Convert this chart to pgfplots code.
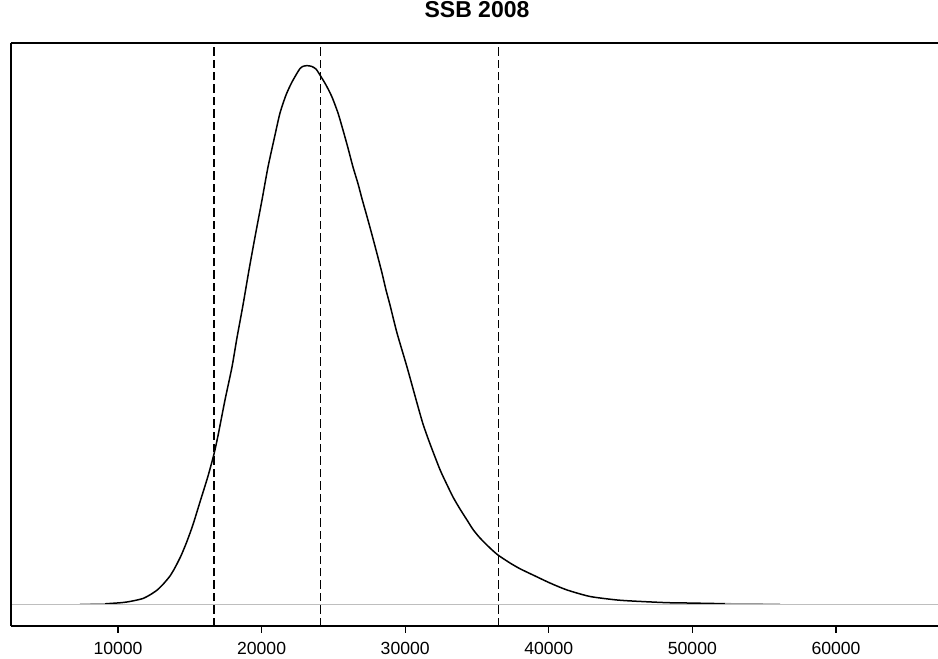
\documentclass[border=0pt]{standalone}
\usepackage{pgfplots}
\pgfplotsset{compat=1.18}
\usepackage{fontspec}
\setmainfont{Liberation Sans}

\definecolor{zeroline}{HTML}{BEBEBE}
\definecolor{tailgray}{HTML}{9A9A9A}

\begin{document}
\begin{tikzpicture}
% fixed page: 938x659 px at 0.5pt per px; the axis runs past the right edge
\useasboundingbox (-5.5pt,-16.5pt) rectangle (463.5pt,313pt);
\begin{axis}[
    at={(0,0)}, anchor=south west,
    scale only axis,
    width=466pt, height=291.5pt,
    xmin=2549, xmax=67453,
    ymin=-0.0403, ymax=1.0422,
    separate axis lines,
    axis x line=box,
    axis y line=none,
    x axis line style={black, line width=0.6pt, -},
    xtick={10000,20000,30000,40000,50000,60000},
    ytick=\empty,
    xtick pos=bottom,
    tick align=outside,
    major tick length=3.3pt,
    every tick/.style={black, line width=0.6pt},
    scaled x ticks=false,
    xticklabel style={font=\fontsize{8.8}{10.5}\selectfont, yshift=-1.2pt},
    /pgf/number format/1000 sep={},
    /pgf/number format/fixed,
    /pgf/number format/precision=0,
    /pgf/number format/assume math mode=true,
    title={SSB 2008},
    title style={font=\bfseries\fontsize{11.5}{13}\selectfont, at={(0.5,1)}, anchor=center, yshift=10.65pt},
]
% density curve
\addplot[black, line width=0.75pt, smooth, tension=0.4] coordinates {
(9095,0.0009) (10139,0.0028) (10627,0.0043) (11184,0.0071) (11741,0.0108)
(12228,0.0175) (12716,0.0262) (13134,0.0370) (13621,0.0525) (13969,0.0680)
(14387,0.0900) (14805,0.1170) (15223,0.1480) (15710,0.1900) (16268,0.2380)
(16685,0.2791) (16964,0.3130) (17451,0.3793) (17939,0.4406) (18287,0.4950)
(18705,0.5557) (19123,0.6207) (19541,0.6820) (20028,0.7507) (20446,0.8119)
(20933,0.8713) (21282,0.9122) (21700,0.9456) (22117,0.9698) (22674,0.9948)
(22953,0.9994) (23232,1.0000) (23510,0.9985) (23789,0.9938) (24067,0.9827)
(24485,0.9642) (24903,0.9419) (25321,0.9122) (25669,0.8806) (26017,0.8472)
(26365,0.8119) (26714,0.7810) (26992,0.7530) (27340,0.7200) (27689,0.6860)
(28037,0.6510) (28385,0.6151) (28664,0.5836) (28942,0.5557) (29430,0.5037)
(30126,0.4406) (30822,0.3737) (31240,0.3348) (31728,0.2980) (32424,0.2500)
(32912,0.2220) (33329,0.1992) (33817,0.1769) (34304,0.1565) (34722,0.1390)
(35210,0.1231) (35906,0.1045) (36463,0.0915) (37299,0.0767) (37995,0.0660)
(38901,0.0544) (40084,0.0395) (41268,0.0266) (42870,0.0145) (44750,0.0080)
(46143,0.0056) (48232,0.0030) (49625,0.0024) (52271,0.0011)
};
% tails lying on the zero line
\addplot[tailgray, line width=0.75pt] coordinates {(7354,0.0003) (9095,0.0009)};
\addplot[tailgray, line width=0.75pt] coordinates {(52271,0.0011) (56102,0.0003)};
% zero line
\addplot[zeroline, line width=0.5pt] coordinates {(2549,0) (67453,0)};
% quantiles
\addplot[black, line width=0.65pt, dash pattern=on 4.2pt off 2pt] coordinates {(16685,-0.0403) (16685,1.0422)};
\addplot[black, line width=0.65pt, dash pattern=on 4.2pt off 2pt] coordinates {(24088,-0.0403) (24088,1.0422)};
\addplot[black, line width=0.65pt, dash pattern=on 4.2pt off 2pt] coordinates {(36510,-0.0403) (36510,1.0422)};
\end{axis}
% left side of the frame
\draw[black, line width=0.6pt] (current axis.north west) -- (current axis.south west);
\end{tikzpicture}
\end{document}
